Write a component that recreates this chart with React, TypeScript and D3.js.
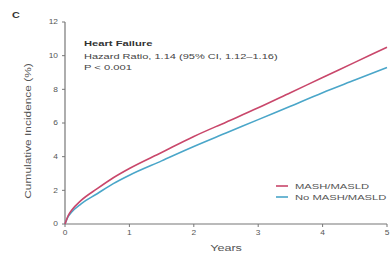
import React from 'react'
import * as d3 from 'd3'

// chart values
const years = [0, 0.05, 0.1, 0.25, 0.5, 0.75, 1, 1.5, 2, 2.5, 3, 3.5, 4, 4.5, 5]
const mashValues = [0, 0.5, 0.8, 1.4, 2.1, 2.75, 3.3, 4.25, 5.2, 6.05, 6.9, 7.8, 8.7, 9.6, 10.5]
const noMashValues = [0, 0.45, 0.7, 1.2, 1.8, 2.4, 2.9, 3.75, 4.6, 5.4, 6.2, 7.0, 7.8, 8.55, 9.3]
const xTicks = [0, 1, 2, 3, 4, 5]
const yTicks = [0, 2, 4, 6, 8, 10, 12]
const seriesNames = ['MASH/MASLD', 'No MASH/MASLD']
const seriesColors = ['#c9476b', '#4aa6c9']

const W = 390
const H = 255
const margin = { top: 22, right: 3, bottom: 31, left: 65 }

// the reference font is drawn wide, so stretch text horizontally
const SX = 1.4

function Txt(props: any) {
  const { x, y, sx = SX, children, ...rest } = props
  return (
    <text transform={`translate(${x},${y}) scale(${sx},1)`} {...rest}>{children}</text>
  )
}

export default function App() {
  const x = d3.scaleLinear().domain([0, 5]).range([margin.left, W - margin.right])
  const y = d3.scaleLinear().domain([0, 12]).range([H - margin.bottom, margin.top])

  const line = d3.line<[number, number]>()
    .x(d => x(d[0]))
    .y(d => y(d[1]))
    .curve(d3.curveMonotoneX)

  const series = [mashValues, noMashValues].map(vals => years.map((t, i) => [t, vals[i]] as [number, number]))

  const font = 'Liberation Sans, Arial, sans-serif'
  const axisColor = '#777'
  const y0 = y(0)

  return (
    <svg width={W} height={H} style={{ position: 'absolute', left: 0, top: 0 }} fontFamily={font}>
      <rect width={W} height={H} fill="#fff" />
      <Txt x={12} y={18} sx={1.2} fontSize={9} fontWeight="bold" fill="#333">C</Txt>

      {/* y axis */}
      <line x1={x(0)} x2={x(0)} y1={y(0)} y2={y(12)} stroke={axisColor} strokeWidth={1.2} />
      {yTicks.map(t => (
        <g key={'y' + t}>
          <line x1={x(0) - 3} x2={x(0)} y1={y(t)} y2={y(t)} stroke={axisColor} />
          <Txt x={x(0) - 7} y={y(t)} sx={1.2} dy="0.35em" textAnchor="end" fontSize={7} fill="#555">{t}</Txt>
        </g>
      ))}
      <text transform={`translate(31,131) rotate(-90) scale(${SX},1)`} textAnchor="middle" fontSize={8.5} fill="#555">
        Cumulative Incidence (%)
      </text>

      {/* x axis */}
      <line x1={x(0)} x2={x(5)} y1={y0} y2={y0} stroke={axisColor} strokeWidth={1.2} />
      {xTicks.map(t => (
        <g key={'x' + t}>
          <line x1={x(t)} x2={x(t)} y1={y0} y2={y0 + 3} stroke={axisColor} />
          <Txt x={x(t)} y={y0 + 11} sx={1.2} textAnchor="middle" fontSize={7} fill="#555">{t}</Txt>
        </g>
      ))}
      <Txt x={(x(0) + x(5)) / 2} y={H - 4} textAnchor="middle" fontSize={9} fill="#555">Years</Txt>

      {/* curves */}
      {series.slice().reverse().map((s, i) => (
        <path key={'s' + i} d={line(s) || ''} fill="none" stroke={seriesColors[1 - i]} strokeWidth={1.6} />
      ))}

      {/* annotation */}
      <Txt x={84} y={46} fontSize={8} fontWeight="bold" fill="#333">Heart Failure</Txt>
      <Txt x={84} y={59} sx={1.38} fontSize={8} fill="#444">Hazard Ratio, 1.14 (95% CI, 1.12–1.16)</Txt>
      <Txt x={84} y={70} fontSize={8} fill="#444">P &lt; 0.001</Txt>

      {/* legend */}
      {seriesNames.map((n, i) => (
        <g key={n} transform={`translate(276,${186 + i * 11})`}>
          <line x1={0} x2={12} y1={0} y2={0} stroke={seriesColors[i]} strokeWidth={1.6} />
          <Txt x={19} y={0} dy="0.35em" fontSize={8} fill="#555">{n}</Txt>
        </g>
      ))}
    </svg>
  )
}
